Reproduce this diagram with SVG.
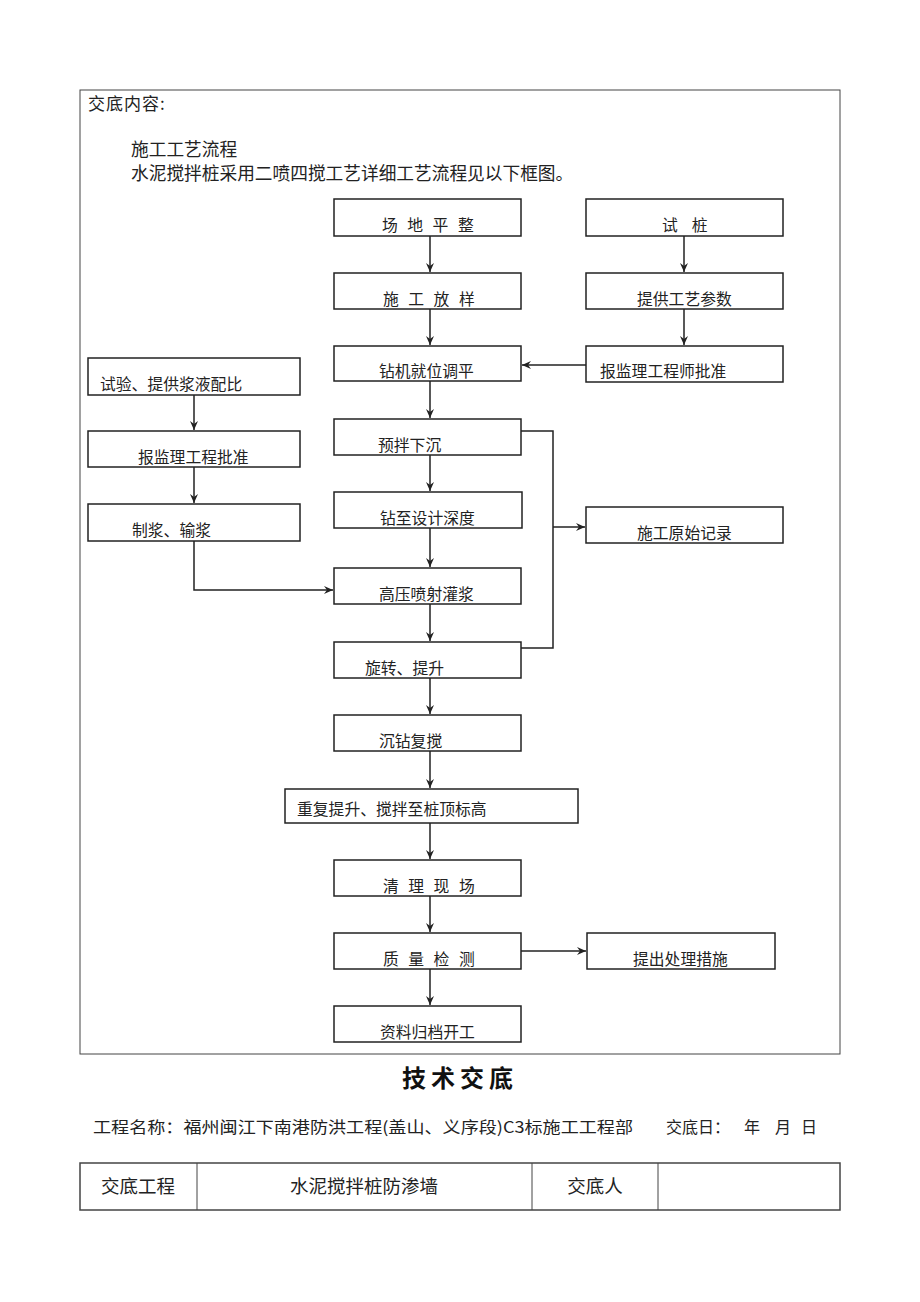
<svg xmlns="http://www.w3.org/2000/svg" width="920" height="1302" viewBox="0 0 920 1302">
<style>
.box{fill:#fff;stroke:#222;stroke-width:1.5}
.t{font-family:"Noto Sans CJK SC","Liberation Serif",sans-serif;font-size:15.8px;fill:#222}
.h{font-family:"Noto Sans CJK SC","Liberation Serif",sans-serif;font-size:16px;fill:#222}
.big{font-size:17.7px}
.tb{font-size:18.5px}
.c{fill:none;stroke:#222;stroke-width:1.5}
.frame{fill:none;stroke:#444;stroke-width:1}
</style>
<defs>
<marker id="ah" markerWidth="10" markerHeight="10" refX="9" refY="5" orient="auto" markerUnits="userSpaceOnUse">
<path d="M0,1 L9,5 L0,9 L3,5 Z" fill="#222"/>
</marker>
</defs>
<rect width="920" height="1302" fill="#fff"/>
<g id="frame">
<rect class="frame" x="80" y="90" width="760" height="964"/>
<text class="h" x="88" y="110" style="font-size:17px" letter-spacing="1">交底内容:</text>
<text class="h big" x="131" y="156">施工工艺流程</text>
<text class="h big" x="131" y="180">水泥搅拌桩采用二喷四搅工艺详细工艺流程见以下框图。</text>
</g>
<g id="connectors">
<line class="c" x1="430" y1="236" x2="430" y2="272" marker-end="url(#ah)"/>
<line class="c" x1="430" y1="309" x2="430" y2="345" marker-end="url(#ah)"/>
<line class="c" x1="430" y1="381" x2="430" y2="418" marker-end="url(#ah)"/>
<line class="c" x1="430" y1="455" x2="430" y2="491" marker-end="url(#ah)"/>
<line class="c" x1="430" y1="528" x2="430" y2="567" marker-end="url(#ah)"/>
<line class="c" x1="430" y1="604" x2="430" y2="641" marker-end="url(#ah)"/>
<line class="c" x1="430" y1="678" x2="430" y2="714" marker-end="url(#ah)"/>
<line class="c" x1="430" y1="751" x2="430" y2="788" marker-end="url(#ah)"/>
<line class="c" x1="430" y1="823" x2="430" y2="859" marker-end="url(#ah)"/>
<line class="c" x1="430" y1="896" x2="430" y2="932" marker-end="url(#ah)"/>
<line class="c" x1="430" y1="969" x2="430" y2="1005" marker-end="url(#ah)"/>
<line class="c" x1="684" y1="236" x2="684" y2="272" marker-end="url(#ah)"/>
<line class="c" x1="684" y1="309" x2="684" y2="345" marker-end="url(#ah)"/>
<line class="c" x1="586" y1="365" x2="522" y2="365" marker-end="url(#ah)"/>
<line class="c" x1="194" y1="395" x2="194" y2="430" marker-end="url(#ah)"/>
<line class="c" x1="194" y1="467" x2="194" y2="503" marker-end="url(#ah)"/>
<polyline class="c" points="194,541 194,590 333,590" marker-end="url(#ah)"/>
<polyline class="c" points="521,431 553,431 553,648 521,648"/>
<line class="c" x1="553" y1="527" x2="585" y2="527" marker-end="url(#ah)"/>
<line class="c" x1="521" y1="951" x2="586" y2="951" marker-end="url(#ah)"/>
</g>
<g id="n1"><rect class="box" x="334" y="199" width="187" height="37"/><text class="t" x="382" y="231" letter-spacing="9.5">场地平整</text></g>
<g id="n2"><rect class="box" x="334" y="273" width="187" height="36"/><text class="t" x="383" y="305" letter-spacing="9.5">施工放样</text></g>
<g id="n3"><rect class="box" x="334" y="346" width="187" height="35"/><text class="t" x="379" y="377">钻机就位调平</text></g>
<g id="n4"><rect class="box" x="334" y="419" width="187" height="36"/><text class="t" x="378" y="451">预拌下沉</text></g>
<g id="n5"><rect class="box" x="334" y="492" width="188" height="36"/><text class="t" x="380" y="524">钻至设计深度</text></g>
<g id="n6"><rect class="box" x="334" y="568" width="187" height="36"/><text class="t" x="379" y="600">高压喷射灌浆</text></g>
<g id="n7"><rect class="box" x="334" y="642" width="187" height="36"/><text class="t" x="365" y="674">旋转、提升</text></g>
<g id="n8"><rect class="box" x="334" y="715" width="187" height="36"/><text class="t" x="379" y="747">沉钻复搅</text></g>
<g id="n9"><rect class="box" x="285" y="789" width="293" height="34"/><text class="t" x="297" y="815">重复提升、搅拌至桩顶标高</text></g>
<g id="n10"><rect class="box" x="334" y="860" width="187" height="36"/><text class="t" x="383" y="892" letter-spacing="9.5">清理现场</text></g>
<g id="n11"><rect class="box" x="334" y="933" width="187" height="36"/><text class="t" x="383" y="965" letter-spacing="9.5">质量检测</text></g>
<g id="n12"><rect class="box" x="334" y="1006" width="187" height="36"/><text class="t" x="380" y="1038">资料归档开工</text></g>
<g id="r1"><rect class="box" x="586" y="199" width="197" height="37"/><text class="t" x="662" y="231" letter-spacing="14">试桩</text></g>
<g id="r2"><rect class="box" x="586" y="273" width="197" height="36"/><text class="t" x="637" y="305">提供工艺参数</text></g>
<g id="r3"><rect class="box" x="586" y="346" width="197" height="36"/><text class="t" x="600" y="377">报监理工程师批准</text></g>
<g id="r4"><rect class="box" x="586" y="507" width="197" height="36"/><text class="t" x="637" y="539">施工原始记录</text></g>
<g id="r5"><rect class="box" x="587" y="933" width="188" height="36"/><text class="t" x="633" y="965">提出处理措施</text></g>
<g id="l1"><rect class="box" x="88" y="358" width="212" height="37"/><text class="t" x="100" y="390">试验、提供浆液配比</text></g>
<g id="l2"><rect class="box" x="88" y="431" width="212" height="36"/><text class="t" x="138" y="463">报监理工程批准</text></g>
<g id="l3"><rect class="box" x="88" y="504" width="212" height="37"/><text class="t" x="132" y="536">制浆、输浆</text></g>
<g id="title">
<text x="460" y="1087" text-anchor="middle" font-family="Noto Sans CJK SC,sans-serif" font-size="24" font-weight="bold" letter-spacing="5" fill="#111">技术交底</text>
<text class="h" x="93" y="1133" textLength="540" lengthAdjust="spacingAndGlyphs">工程名称：福州闽江下南港防洪工程(盖山、义序段)C3标施工工程部</text>
<text class="h" x="666" y="1133">交底日：</text>
<text class="h" x="744" y="1133">年</text>
<text class="h" x="775" y="1133">月</text>
<text class="h" x="801" y="1133">日</text>
</g>
<g id="table">
<rect class="frame" x="80" y="1163" width="760" height="47" style="stroke-width:1.5"/>
<line class="frame" x1="197" y1="1163" x2="197" y2="1210"/>
<line class="frame" x1="532" y1="1163" x2="532" y2="1210"/>
<line class="frame" x1="658" y1="1163" x2="658" y2="1210"/>
<text class="h tb" x="138" y="1193" text-anchor="middle">交底工程</text>
<text class="h tb" x="364" y="1193" text-anchor="middle">水泥搅拌桩防渗墙</text>
<text class="h tb" x="595" y="1193" text-anchor="middle">交底人</text>
</g>
</svg>
